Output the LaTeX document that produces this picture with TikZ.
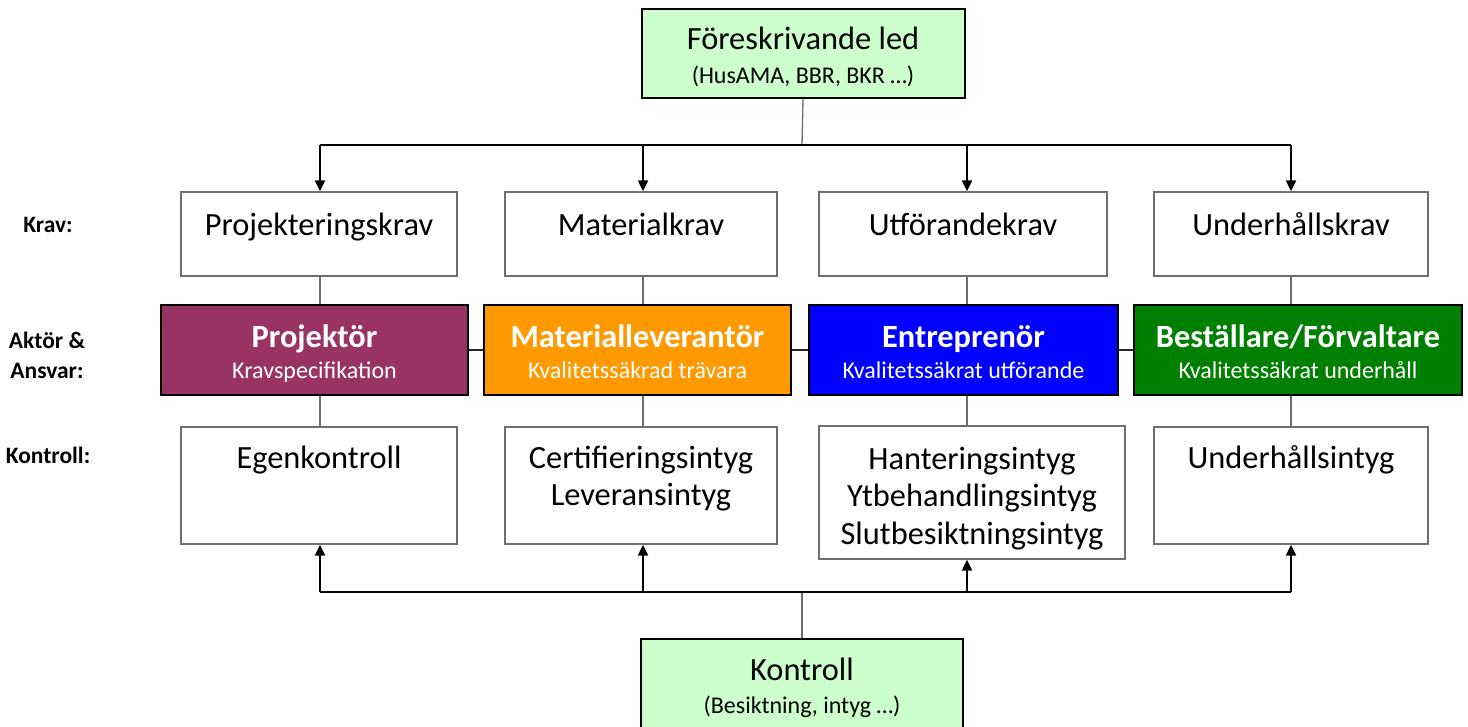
\documentclass[tikz,border=0pt]{standalone}
\usepackage{fontspec}
\setmainfont{Carlito}
\usetikzlibrary{arrows.meta}
\definecolor{lgreen}{HTML}{CCFFCC}
\definecolor{cpurple}{HTML}{993366}
\definecolor{corange}{HTML}{FF9900}
\definecolor{cblue}{HTML}{0000FF}
\definecolor{cgreen}{HTML}{008000}
\definecolor{bgray}{RGB}{110,110,110}
\tikzset{
  x=1pt, y=-1pt,
  box/.style={draw=bgray, line width=1.4pt, fill=white, inner sep=0pt},
  actbox/.style={draw=black, line width=2pt, inner sep=0pt},
  regbox/.style={draw=black, line width=2pt, fill=lgreen, inner sep=0pt},
  txt/.style={inner sep=0pt, anchor=base, align=center, font=\fontsize{32.4}{37.5}\selectfont},
  subtxt/.style={inner sep=0pt, anchor=base, align=center, font=\fontsize{24}{28}\selectfont},
  nametxt/.style={inner sep=0pt, anchor=base, text=white, font=\bfseries\fontsize{32.4}{36}\selectfont},
  acttxt/.style={inner sep=0pt, anchor=base, text=white, font=\fontsize{24}{28}\selectfont},
  lbl/.style={inner sep=0pt, anchor=base, align=center, font=\bfseries\fontsize{23.5}{30}\selectfont},
  thinline/.style={draw=bgray, line width=1.3pt},
  busline/.style={draw=black, line width=1.4pt},
  arr/.style={draw=black, line width=2.2pt, -{Triangle[length=11pt,width=10pt]}},
  link/.style={draw=black!85, line width=2pt}
}
\begin{document}
\begin{tikzpicture}
\useasboundingbox (0,0) rectangle (1468,726);
% bus coordinates
\coordinate (busT) at (802,145);
\coordinate (busB) at (802,592);
\coordinate (t1) at (320,145);
\coordinate (t2) at (643,145);
\coordinate (t3) at (967,145);
\coordinate (t4) at (1291,145);
\coordinate (b1) at (320,592);
\coordinate (b2) at (643,592);
\coordinate (b3) at (967,592);
\coordinate (b4) at (1291,592);
% top box
\node[regbox, minimum width=323pt, minimum height=89pt] (top) at (803,53.5) {};
\node[txt] (topt) at (803,49) {Föreskrivande led};
\node[subtxt] (tops) at (803,83) {(HusAMA, BBR, BKR …)};
% krav boxes
\node[box, minimum width=276pt, minimum height=84pt] (k1) at (319,234) {};
\node[box, minimum width=272pt, minimum height=84pt] (k2) at (641,234) {};
\node[box, minimum width=288pt, minimum height=84pt] (k3) at (963,234) {};
\node[box, minimum width=274pt, minimum height=84pt] (k4) at (1291,234) {};
\node[txt] (k1t) at (319,235) {Projekteringskrav};
\node[txt] (k2t) at (641,235) {Materialkrav};
\node[txt] (k3t) at (963,235) {Utförandekrav};
\node[txt] (k4t) at (1291,235) {Underhållskrav};
% actor boxes
\node[actbox, fill=cpurple, minimum width=307pt, minimum height=90pt] (a1) at (314.5,350) {};
\node[actbox, fill=corange, minimum width=307pt, minimum height=90pt] (a2) at (637.5,350) {};
\node[actbox, fill=cblue, minimum width=309pt, minimum height=90pt] (a3) at (963.5,350) {};
\node[actbox, fill=cgreen, minimum width=328pt, minimum height=90pt] (a4) at (1298,350) {};
\node[nametxt] (a1n) at (314.5,347) {Projektör};
\node[acttxt] (a1s) at (314.5,378) {Kravspecifikation};
\node[nametxt] (a2n) at (637.5,347) {Materialleverantör};
\node[acttxt] (a2s) at (637.5,378) {Kvalitetssäkrad trävara};
\node[nametxt] (a3n) at (963.5,347) {Entreprenör};
\node[acttxt] (a3s) at (963.5,378) {Kvalitetssäkrat utförande};
\node[nametxt] (a4n) at (1298,347) {Beställare/Förvaltare};
\node[acttxt] (a4s) at (1298,378) {Kvalitetssäkrat underhåll};
% kontroll boxes
\node[box, minimum width=276pt, minimum height=117pt] (c1) at (319,485.5) {};
\node[box, minimum width=272pt, minimum height=117pt] (c2) at (641,485.5) {};
\node[box, minimum width=306pt, minimum height=133pt] (c3) at (972,492.5) {};
\node[box, minimum width=274pt, minimum height=117pt] (c4) at (1291,485.5) {};
\node[txt] (c1t) at (319,468) {Egenkontroll};
\node[txt] (c2t) at (641,505.5) {Certifieringsintyg\\Leveransintyg};
\node[txt] (c3t) at (972,544) {Hanteringsintyg\\Ytbehandlingsintyg\\Slutbesiktningsintyg};
\node[txt] (c4t) at (1291,468) {Underhållsintyg};
% bottom box
\node[regbox, minimum width=322pt, minimum height=89pt] (bot) at (802,683.5) {};
\node[txt] (bott) at (802,680) {Kontroll};
\node[subtxt] (bots) at (802,713) {(Besiktning, intyg …)};
% row labels
\node[lbl] (lk) at (48,232) {Krav:};
\node[lbl] (la) at (47,378) {Aktör \&\\Ansvar:};
\node[lbl] (lc) at (48,463) {Kontroll:};
% connectors top
\draw[thinline] (top.south) -- (busT);
\draw[busline] (t1) -- (t4);
\draw[arr] (t1) -- (t1 |- k1.north);
\draw[arr] (t2) -- (t2 |- k2.north);
\draw[arr] (t3) -- (t3 |- k3.north);
\draw[arr] (t4) -- (t4 |- k4.north);
% krav to actors
\draw[thinline] (t1 |- k1.south) -- (t1 |- a1.north);
\draw[thinline] (t2 |- k2.south) -- (t2 |- a2.north);
\draw[thinline] (t3 |- k3.south) -- (t3 |- a3.north);
\draw[thinline] (t4 |- k4.south) -- (t4 |- a4.north);
% actors to kontroll
\draw[thinline] (t1 |- a1.south) -- (t1 |- c1.north);
\draw[thinline] (t2 |- a2.south) -- (t2 |- c2.north);
\draw[thinline] (t3 |- a3.south) -- (t3 |- c3.north);
\draw[thinline] (t4 |- a4.south) -- (t4 |- c4.north);
% actor links
\draw[link] (a1.east) -- (a2.west);
\draw[link] (a2.east) -- (a3.west);
\draw[link] (a3.east) -- (a4.west);
% bottom bus
\draw[thinline] (bot.north) -- (busB);
\draw[busline] (b1) -- (b4);
\draw[arr] (b1) -- (b1 |- c1.south);
\draw[arr] (b2) -- (b2 |- c2.south);
\draw[arr] (b3) -- (b3 |- c3.south);
\draw[arr] (b4) -- (b4 |- c4.south);
\end{tikzpicture}
\end{document}
